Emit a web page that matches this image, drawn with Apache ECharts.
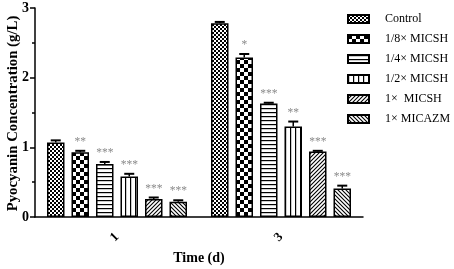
<!DOCTYPE html>
<html>
<head>
<meta charset="utf-8">
<script src="https://cdn.jsdelivr.net/npm/echarts@6/dist/echarts.min.js"></script>
<style>
  html, body { margin: 0; padding: 0; background: #fff; }
  #chart { width: 454px; height: 269px; }
</style>
</head>
<body>
<div id="chart"></div>
<script>
const days = ["1", "3"];
const groups = ["Control", "1/8× MICSH", "1/4× MICSH", "1/2× MICSH", "1×  MICSH", "1× MICAZM"];
// values per group: [day1, day3]
const control = [1.07, 2.78];
const micsh8 = [0.93, 2.29];
const micsh4 = [0.76, 1.63];
const micsh2 = [0.58, 1.30];
const micsh1 = [0.26, 0.94];
const micazm = [0.22, 0.41];
const errors = [
  [0.03, 0.02],
  [0.02, 0.05],
  [0.03, 0.01],
  [0.04, 0.07],
  [0.02, 0.01],
  [0.02, 0.04]
];
const stars = [
  ["", ""],
  ["**", "*"],
  ["***", "***"],
  ["***", "**"],
  ["***", "***"],
  ["***", "***"]
];
const seriesValues = [control, micsh8, micsh4, micsh2, micsh1, micazm];

const BAR_W = 17.5;
const BAR_GAP = 7;

function makePattern(kind) {
  const c = document.createElement("canvas");
  const s = kind === "check" ? 8 : kind === "fine" ? 4 : kind === "vline" ? 5 : 4;
  c.width = s;
  c.height = s;
  const ctx = c.getContext("2d");
  ctx.fillStyle = "#fff";
  ctx.fillRect(0, 0, s, s);
  ctx.fillStyle = "#000";
  ctx.strokeStyle = "#000";
  if (kind === "fine") {
    ctx.fillRect(0, 0, 2, 2);
    ctx.fillRect(2, 2, 2, 2);
  } else if (kind === "check") {
    ctx.fillRect(0, 0, 4, 4);
    ctx.fillRect(4, 4, 4, 4);
  } else if (kind === "hline") {
    ctx.fillRect(0, 0, s, 1.2);
  } else if (kind === "vline") {
    ctx.fillRect(0, 0, 1.2, s);
  } else if (kind === "fwd") {
    ctx.lineWidth = 1.1;
    ctx.beginPath();
    ctx.moveTo(-1, s + 1); ctx.lineTo(s + 1, -1);
    ctx.moveTo(-1, 1); ctx.lineTo(1, -1);
    ctx.moveTo(s - 1, s + 1); ctx.lineTo(s + 1, s - 1);
    ctx.stroke();
  } else if (kind === "back") {
    ctx.lineWidth = 1.1;
    ctx.beginPath();
    ctx.moveTo(-1, -1); ctx.lineTo(s + 1, s + 1);
    ctx.moveTo(s - 1, -1); ctx.lineTo(s + 1, 1);
    ctx.moveTo(-1, s - 1); ctx.lineTo(1, s + 1);
    ctx.stroke();
  }
  return { image: c, repeat: "repeat" };
}

const patternKinds = ["fine", "check", "hline", "vline", "fwd", "back"];
const serif = "Liberation Serif";

const chart = echarts.init(document.getElementById("chart"));

const barSeries = seriesValues.map((vals, i) => ({
  name: groups[i],
  type: "bar",
  data: vals,
  barWidth: BAR_W,
  barGap: (BAR_GAP / BAR_W * 100) + "%",
  itemStyle: {
    color: makePattern(patternKinds[i]),
    borderColor: "#000",
    borderWidth: 1.5
  },
  emphasis: { disabled: true }
}));

const errData = [];
seriesValues.forEach((vals, i) => {
  vals.forEach((v, d) => errData.push([d, i, v, errors[i][d], stars[i][d]]));
});

const errSeries = {
  type: "custom",
  data: errData,
  z: 10,
  silent: true,
  encode: { x: 0, y: 2 },
  renderItem(params, api) {
    const cat = api.value(0);
    const idx = api.value(1);
    const val = api.value(2);
    const err = api.value(3);
    const star = errData[params.dataIndex][4];
    const base = api.coord([cat, val]);
    const top = api.coord([cat, val + err]);
    const x = base[0] + (idx - 2.5) * (BAR_W + BAR_GAP);
    const half = 5;
    const children = [
      { type: "line", shape: { x1: x, y1: base[1], x2: x, y2: top[1] }, style: { stroke: "#000", lineWidth: 1.5 } },
      { type: "line", shape: { x1: x - half, y1: top[1], x2: x + half, y2: top[1] }, style: { stroke: "#000", lineWidth: 2 } }
    ];
    if (star) {
      children.push({
        type: "text",
        style: {
          text: star,
          x: x,
          y: top[1] - 3,
          align: "center",
          verticalAlign: "bottom",
          fill: "#8a8a8a",
          font: "11.5px " + serif
        }
      });
    }
    return { type: "group", children };
  }
};

chart.setOption({
  animation: false,
  grid: { left: 35, right: 91, top: 8, bottom: 52, outerBoundsMode: "none" },
  legend: {
    orient: "vertical",
    left: 347,
    top: 12,
    padding: 0,
    itemWidth: 21,
    itemHeight: 8,
    itemGap: 6,
    icon: "rect",
    data: groups,
    textStyle: {
      fontFamily: serif,
      fontSize: 12,
      color: "#000",
      lineHeight: 14,
      padding: [0, 0, 0, 11]
    }
  },
  xAxis: {
    type: "category",
    data: days,
    name: "Time (d)",
    nameLocation: "middle",
    nameGap: 34,
    nameMoveOverlap: false,
    nameTextStyle: { fontFamily: serif, fontWeight: "bold", fontSize: 14, color: "#000" },
    axisLine: { lineStyle: { color: "#000", width: 1.5 } },
    axisTick: { alignWithLabel: true, length: 5, lineStyle: { color: "#000", width: 1.5 } },
    axisLabel: { rotate: 45, margin: 18, fontFamily: serif, fontWeight: "bold", fontSize: 13, color: "#000" }
  },
  yAxis: {
    type: "value",
    min: 0,
    max: 3,
    interval: 1,
    name: "Pyocyanin Concentration (g/L)",
    nameLocation: "middle",
    nameGap: 14,
    nameMoveOverlap: false,
    nameTextStyle: { fontFamily: serif, fontWeight: "bold", fontSize: 14.8, color: "#000", padding: [0, 2, 0, 0] },
    axisLine: { show: true, lineStyle: { color: "#000", width: 1.5 } },
    axisTick: { show: true, length: 5, lineStyle: { color: "#000", width: 1.5 } },
    minorTick: { show: true, splitNumber: 2, length: 3, lineStyle: { color: "#000", width: 1.5 } },
    splitLine: { show: false },
    axisLabel: { margin: 6, fontFamily: serif, fontWeight: "bold", fontSize: 14, color: "#000" }
  },
  series: [...barSeries, errSeries]
});
</script>
</body>
</html>
